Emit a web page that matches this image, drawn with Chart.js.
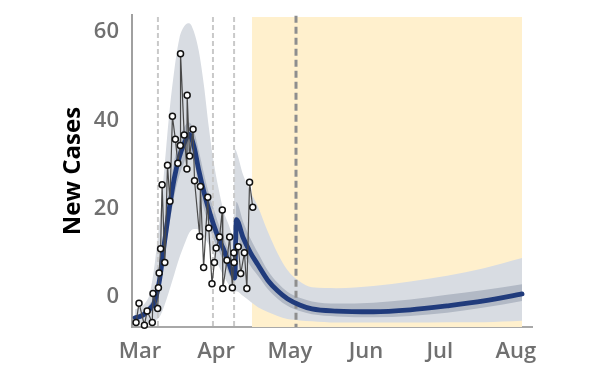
<!DOCTYPE html>
<html><head><meta charset="utf-8">
<script src="https://cdn.jsdelivr.net/npm/chart.js@4.4.1/dist/chart.umd.min.js"></script>
<style>html,body{margin:0;padding:0;background:#fff}</style>
</head><body>
<canvas id="c" width="600" height="380"></canvas>
<script>
// x values are days since 1 March
const monthTicks = [0, 31, 61, 92, 122, 153];
const monthLabels = ['Mar', 'Apr', 'May', 'Jun', 'Jul', 'Aug'];
const yTicks = [0, 20, 40, 60];

const obsDays = [-1.6,-0.4,1.8,2.9,5.0,5.3,7.2,7.5,7.8,8.4,9.0,10.1,11.2,12.2,13.2,14.4,15.4,16.4,16.5,18.0,19.1,19.2,20.2,21.6,22.2,24.3,24.6,25.9,27.6,28.0,29.3,30.3,31.0,32.4,33.5,33.7,35.4,36.5,37.6,38.2,38.3,40.0,41.0,42.5,43.5,44.6,45.9];
const obsCases = [-5.8,-1.4,-6.4,-3.2,-5.8,0.8,-2.6,2.1,5.4,10.9,25.4,7.8,29.8,21.7,40.9,35.7,30.3,34.3,55.1,36.7,29.0,45.7,31.9,38.0,26.3,13.7,25.0,6.7,22.6,15.6,3.0,7.8,11.1,13.6,19.7,1.9,8.3,13.6,2.1,10.0,7.8,11.4,5.3,10.0,1.9,26.0,20.3];

const modelDays = [-2,0,2,4,6,8,10,12,14,16,18,20,22,24,26,28,30,32,34,36,38,38.6,39.2,42,45,48,52,56,60,65,70,80,95,110,125,140,155.5];
const median = [-4.7,-4.4,-3.8,-2.7,-1.0,4.0,12.5,20.3,27.0,31.7,34.8,36.8,34.0,28.5,23.8,19.8,16.3,13.3,10.8,7.9,4.8,4.3,17.5,13.4,10.0,7.3,3.8,1.4,-0.4,-1.8,-2.7,-3.2,-3.35,-2.9,-2.0,-0.9,0.7];
const inner50Hi = [-4.2,-3.8,-3.0,-1.6,0.8,7.0,16.5,24.5,31.0,35.5,38.5,39.5,37.5,33.0,28.0,23.5,20.0,16.5,13.5,10.5,7.8,7.3,21.5,17.0,13.2,10.0,6.0,3.2,1.2,-0.2,-1.0,-1.5,-1.3,-0.6,0.5,1.6,2.9];
const inner50Lo = [-5.2,-5.0,-4.6,-3.8,-2.6,1.5,9.0,16.5,23.0,27.5,30.5,33.0,30.5,25.0,20.0,16.5,13.0,10.5,8.0,5.5,3.0,2.5,13.5,10.0,7.0,4.8,1.8,-0.4,-2.0,-3.2,-3.9,-4.4,-4.6,-4.3,-3.6,-2.4,-0.9];
const outer95Hi = [-2.8,-2.4,-1.4,0.8,7.5,17.5,29.5,42.0,51.5,58.5,61.3,62.0,60.0,55.5,48.0,38.5,30.5,24.5,19.5,16.5,14.0,33.5,33.0,27.6,23.8,20.5,14.8,9.9,6.1,3.5,2.2,2.0,2.5,3.5,4.8,6.5,8.8];
const outer95Lo = [-5.7,-5.8,-5.8,-5.7,-5.4,-4.5,-1.8,1.6,5.2,8.8,11.8,14.5,15.4,15.3,13.8,11.8,9.5,7.0,4.8,2.9,1.4,1.2,1.3,0.2,-1.1,-2.3,-3.4,-4.3,-5.0,-5.3,-5.5,-5.8,-5.8,-5.8,-5.7,-5.7,-5.4];

const policyDays = [7.3, 29.7, 38.3];
const todayDay = 63.5;
const forecastRange = [45.6, 155.5];

const Y_MIN = -6.8, Y_MAX = 63.85, SHADE_TOP = 63.4;

const pts = (xs, ys) => xs.map((x, i) => ({x, y: ys[i]}));
const vline = (d) => [{x: d, y: SHADE_TOP}, {x: d, y: Y_MIN}];

const datasets = [];
// forecast shading
datasets.push({data: [{x: forecastRange[0], y: SHADE_TOP}, {x: forecastRange[1], y: SHADE_TOP}],
  borderWidth: 0, pointRadius: 0, backgroundColor: '#fff0cd', fill: {value: Y_MIN}, order: 20});
// 95% band
datasets.push({data: pts(modelDays, outer95Hi), borderWidth: 0, pointRadius: 0, backgroundColor: '#d8dce2',
  fill: '+1', cubicInterpolationMode: 'monotone', order: 19});
datasets.push({data: pts(modelDays, outer95Lo), borderWidth: 0, pointRadius: 0, fill: false,
  cubicInterpolationMode: 'monotone', order: 19});
// 50% band
datasets.push({data: pts(modelDays, inner50Hi), borderWidth: 0, pointRadius: 0, backgroundColor: '#b2b9c5',
  fill: '+1', cubicInterpolationMode: 'monotone', order: 18});
datasets.push({data: pts(modelDays, inner50Lo), borderWidth: 0, pointRadius: 0, fill: false,
  cubicInterpolationMode: 'monotone', order: 18});
// policy lines
policyDays.forEach(d => datasets.push({data: vline(d), borderColor: '#c9c9c9', borderWidth: 2,
  borderDash: [5, 3], pointRadius: 0, fill: false, order: 15}));
// today line
datasets.push({data: [{x: todayDay, y: SHADE_TOP + 0.3}, {x: todayDay, y: Y_MIN}], borderColor: '#8e8e8e', borderWidth: 3,
  borderDash: [7, 4], pointRadius: 0, fill: false, order: 14});
// median
datasets.push({data: pts(modelDays, median), borderColor: '#203b7c', borderWidth: 4.8, pointRadius: 0,
  fill: false, cubicInterpolationMode: 'monotone', borderCapStyle: 'round', order: 5});
// observed
datasets.push({data: pts(obsDays, obsCases), borderColor: '#4a4a4a', borderWidth: 1.2, pointRadius: 3,
  pointBorderWidth: 1.5, pointBorderColor: '#111', pointBackgroundColor: '#fff', fill: false, clip: false, order: 1});

const tickFont = {family: 'Open Sans', size: 22, weight: '600'};
const noPad = s => { s.paddingTop = 0; s.paddingBottom = 0; s.paddingLeft = 0; s.paddingRight = 0; };

new Chart(document.getElementById('c'), {
  type: 'line',
  data: {datasets},
  options: {
    responsive: false, animation: false, devicePixelRatio: 1,
    layout: {padding: {top: 15, right: 68, left: 0, bottom: 0}},
    plugins: {legend: {display: false}, tooltip: {enabled: false}},
    scales: {
      x: {
        type: 'linear', min: -3.25, max: 159.55,
        afterBuildTicks: s => { s.ticks = monthTicks.map(v => ({value: v})); },
        afterFit: s => { s.height = 53; noPad(s); },
        ticks: {callback: (v, i) => monthLabels[i], color: '#707070', font: tickFont, padding: 12,
          maxRotation: 0, autoSkip: false},
        grid: {display: false, drawTicks: false},
        border: {display: true, color: '#a8a8a8', width: 2}
      },
      y: {
        type: 'linear', min: Y_MIN, max: Y_MAX,
        afterBuildTicks: s => { s.ticks = yTicks.map(v => ({value: v})); },
        afterFit: s => { s.width = 132; noPad(s); },
        ticks: {color: '#707070', font: tickFont, padding: 13},
        grid: {display: false, drawTicks: false},
        border: {display: true, color: '#a0a0a0', width: 2},
        title: {display: true, text: 'New Cases', color: '#000',
          font: {family: 'Open Sans', size: 24, weight: 'bold'}, padding: {top: 59, bottom: 0}}
      }
    }
  }
});
</script>
</body></html>
